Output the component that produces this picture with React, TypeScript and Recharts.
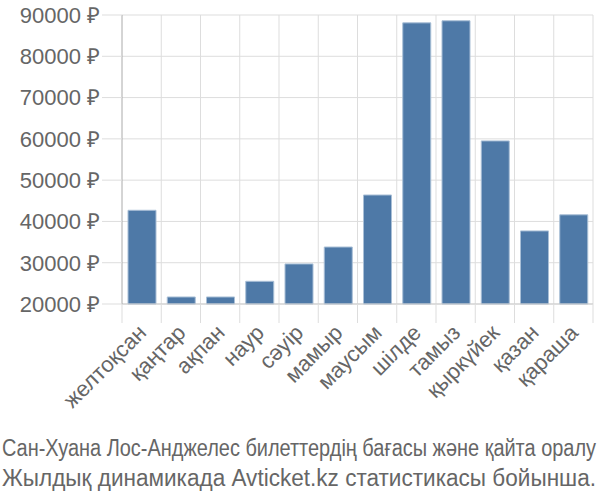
import { BarChart, Bar, XAxis, YAxis, CartesianGrid } from "recharts";

const months = [
  "желтоқсан",
  "қаңтар",
  "ақпан",
  "наур",
  "сәуір",
  "мамыр",
  "маусым",
  "шілде",
  "тамыз",
  "қыркүйек",
  "қазан",
  "қараша",
];
const prices = [42700, 21700, 21700, 25500, 29700, 33800, 46400, 88100, 88600, 59500, 37700, 41600];
const yTicks = [20000, 30000, 40000, 50000, 60000, 70000, 80000, 90000];
const titleLines = [
  "Сан-Хуана Лос-Анджелес билеттердің бағасы және қайта оралу",
  "Жылдық динамикада Avticket.kz статистикасы бойынша.",
];

const data = months.map((m, i) => ({ month: m, price: prices[i] }));

const W = 600;
const H = 420;
const LEFT = 122;
const RIGHT = 7;
const STEP = (W - LEFT - RIGHT) / months.length;
const FONT = "'Liberation Sans', Arial, sans-serif";
const NARROW = "'Liberation Sans Narrow', 'Arial Narrow', sans-serif";

function MonthTick(props: any) {
  const { x, y, payload, index } = props;
  const left = x - STEP / 2;
  return (
    <g>
      <line x1={left} y1={y - 8} x2={left} y2={y + 11} stroke="#ddd" />
      {index === months.length - 1 && (
        <line x1={x + STEP / 2} y1={y - 8} x2={x + STEP / 2} y2={y + 11} stroke="#ddd" />
      )}
      <text
        x={x + 6}
        y={y + 22}
        transform={`rotate(-45, ${x + 6}, ${y + 22})`}
        textAnchor="end"
        fontSize={22}
        fill="#666"
        fontFamily={FONT}
      >
        {payload.value}
      </text>
    </g>
  );
}

export default function App() {
  return (
    <div style={{ position: "absolute", left: 0, top: 0, width: 600, height: 500, background: "#fff" }}>
      <BarChart
        width={W}
        height={H}
        data={data}
        margin={{ top: 15, right: RIGHT, bottom: 0, left: 0 }}
        barSize={28}
      >
        <CartesianGrid
          stroke="#ddd"
          verticalCoordinatesGenerator={({ offset }: any) =>
            months.map((_, i) => offset.left + (i + 1) * (offset.width / months.length))
          }
        />
        <XAxis
          dataKey="month"
          interval={0}
          tickLine={false}
          axisLine={{ stroke: "#ccc" }}
          tick={<MonthTick />}
          height={116}
        />
        <YAxis
          domain={[20000, 90000]}
          ticks={yTicks}
          width={LEFT}
          tickSize={20}
          tickMargin={2}
          tickLine={{ stroke: "#ddd" }}
          axisLine={{ stroke: "#aaa" }}
          tickFormatter={(v: number) => `${v} ₽`}
          tick={{ fontSize: 22, fill: "#666", fontFamily: FONT }}
          interval={0}
        />
        <Bar dataKey="price" fill="#4e79a7" stroke="#a9bfd6" strokeWidth={1} isAnimationActive={false} />
      </BarChart>
      <svg width={600} height={80} style={{ display: "block" }}>
        {titleLines.map((t, i) => (
          <text
            key={i}
            x={2}
            y={36 + i * 30}
            fontSize={23}
            fill="#666"
            fontFamily={NARROW}
            textLength={594}
            lengthAdjust="spacingAndGlyphs"
          >
            {t}
          </text>
        ))}
      </svg>
    </div>
  );
}
